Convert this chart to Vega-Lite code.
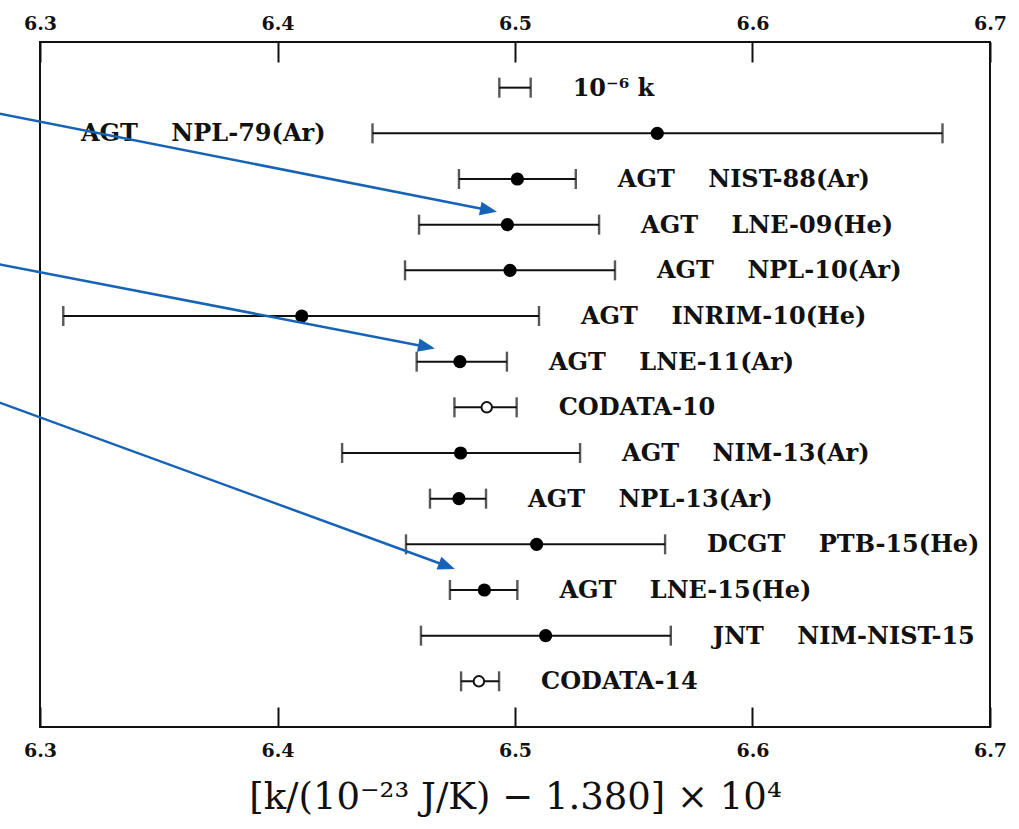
{
  "$schema": "https://vega.github.io/schema/vega-lite/v6.json",
  "width": 950,
  "height": 685,
  "autosize": "none",
  "padding": {"left": 40, "top": 42, "right": 29, "bottom": 102},
  "background": "white",
  "config": {
    "view": {"stroke": "#111", "strokeWidth": 2},
    "font": "DejaVu Serif"
  },
  "datasets": {
    "meas": [
      {"row": 1, "label": "10⁻⁶ k", "k": null, "lo": 6.4934, "hi": 6.5066, "kind": "scale"},
      {"row": 2, "label": "AGT\u00a0\u00a0\u00a0\u00a0NPL-79(Ar)", "k": 6.5599, "lo": 6.4400, "hi": 6.6800, "kind": "meas"},
      {"row": 3, "label": "AGT\u00a0\u00a0\u00a0\u00a0NIST-88(Ar)", "k": 6.5010, "lo": 6.4764, "hi": 6.5256, "kind": "meas"},
      {"row": 4, "label": "AGT\u00a0\u00a0\u00a0\u00a0LNE-09(He)", "k": 6.4968, "lo": 6.4596, "hi": 6.5354, "kind": "meas"},
      {"row": 5, "label": "AGT\u00a0\u00a0\u00a0\u00a0NPL-10(Ar)", "k": 6.4979, "lo": 6.4537, "hi": 6.5421, "kind": "meas"},
      {"row": 6, "label": "AGT\u00a0\u00a0\u00a0\u00a0INRIM-10(He)", "k": 6.4102, "lo": 6.3098, "hi": 6.5101, "kind": "meas"},
      {"row": 7, "label": "AGT\u00a0\u00a0\u00a0\u00a0LNE-11(Ar)", "k": 6.4768, "lo": 6.4586, "hi": 6.4966, "kind": "meas"},
      {"row": 8, "label": "CODATA-10", "k": 6.4881, "lo": 6.4745, "hi": 6.5007, "kind": "codata"},
      {"row": 9, "label": "AGT\u00a0\u00a0\u00a0\u00a0NIM-13(Ar)", "k": 6.4771, "lo": 6.4272, "hi": 6.5274, "kind": "meas"},
      {"row": 10, "label": "AGT\u00a0\u00a0\u00a0\u00a0NPL-13(Ar)", "k": 6.4764, "lo": 6.4642, "hi": 6.4878, "kind": "meas"},
      {"row": 11, "label": "DCGT\u00a0\u00a0\u00a0\u00a0PTB-15(He)", "k": 6.5091, "lo": 6.4541, "hi": 6.5632, "kind": "meas"},
      {"row": 12, "label": "AGT\u00a0\u00a0\u00a0\u00a0LNE-15(He)", "k": 6.4871, "lo": 6.4726, "hi": 6.5010, "kind": "meas"},
      {"row": 13, "label": "JNT\u00a0\u00a0\u00a0\u00a0NIM-NIST-15", "k": 6.5129, "lo": 6.4604, "hi": 6.5656, "kind": "meas"},
      {"row": 14, "label": "CODATA-14", "k": 6.4848, "lo": 6.4773, "hi": 6.4933, "kind": "codata"}
    ],
    "arrows": [
      {"arrow": 1, "x": 6.2790, "row": 1.53},
      {"arrow": 1, "x": 6.4891, "row": 3.683},
      {"arrow": 2, "x": 6.2790, "row": 4.83},
      {"arrow": 2, "x": 6.4630, "row": 6.677},
      {"arrow": 3, "x": 6.2790, "row": 7.82},
      {"arrow": 3, "x": 6.4716, "row": 11.479}
    ],
    "heads": [
      {"arrow": 1, "x": 6.4924, "row": 3.716},
      {"arrow": 2, "x": 6.4663, "row": 6.709},
      {"arrow": 3, "x": 6.4747, "row": 11.540}
    ]
  },
  "resolve": {"axis": {"x": "independent"}},
  "layer": [
    {
      "data": {"name": "meas"},
      "mark": {"type": "rule", "color": "#111", "strokeWidth": 2},
      "encoding": {
        "x": {
          "field": "lo", "type": "quantitative",
          "scale": {"domain": [6.3, 6.7], "nice": false, "zero": false},
          "axis": {
            "orient": "bottom", "values": [6.3, 6.4, 6.5, 6.6, 6.7], "format": ".1f",
            "tickSize": -20, "tickWidth": 2, "tickColor": "#111", "domain": false, "grid": false,
            "labelFont": "DejaVu Serif", "labelFontWeight": "bold", "labelFontSize": 19,
            "labelColor": "#111", "labelPadding": 34, "labelFlush": false,
            "title": "[k/(10⁻²³ J/K) − 1.380] × 10⁴",
            "titleFont": "DejaVu Serif", "titleFontSize": 37, "titleFontWeight": "normal",
            "titleColor": "#111", "titlePadding": 19
          }
        },
        "x2": {"field": "hi"},
        "y": {"field": "row", "type": "quantitative", "scale": {"domain": [0, 15], "reverse": true, "nice": false, "zero": false}, "axis": null}
      }
    },
    {
      "data": {"name": "meas"},
      "mark": {"type": "tick", "orient": "vertical", "color": "#111", "size": 20, "thickness": 2.4},
      "encoding": {
        "x": {
          "field": "lo", "type": "quantitative",
          "scale": {"domain": [6.3, 6.7], "nice": false, "zero": false},
          "axis": {
            "orient": "top", "values": [6.3, 6.4, 6.5, 6.6, 6.7], "format": ".1f",
            "tickSize": -20, "tickWidth": 2, "tickColor": "#111", "domain": false, "grid": false,
            "labelFont": "DejaVu Serif", "labelFontWeight": "bold", "labelFontSize": 19,
            "labelColor": "#111", "labelPadding": 29, "labelFlush": false, "title": null
          }
        },
        "y": {"field": "row", "type": "quantitative", "axis": null}
      }
    },
    {
      "data": {"name": "meas"},
      "mark": {"type": "tick", "orient": "vertical", "color": "#111", "size": 20, "thickness": 2.4},
      "encoding": {
        "x": {"field": "hi", "type": "quantitative", "axis": null},
        "y": {"field": "row", "type": "quantitative", "axis": null}
      }
    },
    {
      "data": {"name": "meas"},
      "transform": [{"filter": "datum.kind === 'meas'"}],
      "mark": {"type": "point", "shape": "circle", "filled": true, "color": "#000", "size": 175, "opacity": 1},
      "encoding": {
        "x": {"field": "k", "type": "quantitative", "axis": null},
        "y": {"field": "row", "type": "quantitative", "axis": null}
      }
    },
    {
      "data": {"name": "meas"},
      "transform": [{"filter": "datum.kind === 'codata'"}],
      "mark": {"type": "point", "shape": "circle", "filled": true, "fill": "white", "stroke": "#111", "strokeWidth": 2, "size": 110, "opacity": 1},
      "encoding": {
        "x": {"field": "k", "type": "quantitative", "axis": null},
        "y": {"field": "row", "type": "quantitative", "axis": null}
      }
    },
    {
      "data": {"name": "meas"},
      "transform": [{"filter": "datum.row !== 2"}],
      "mark": {"type": "text", "align": "left", "baseline": "middle", "dx": 42, "dy": 1, "font": "DejaVu Serif", "fontWeight": "bold", "fontSize": 24, "color": "#111"},
      "encoding": {
        "x": {"field": "hi", "type": "quantitative", "axis": null},
        "y": {"field": "row", "type": "quantitative", "axis": null},
        "text": {"field": "label"}
      }
    },
    {
      "data": {"name": "meas"},
      "transform": [{"filter": "datum.row === 2"}],
      "mark": {"type": "text", "align": "right", "baseline": "middle", "dx": -47, "dy": 1, "font": "DejaVu Serif", "fontWeight": "bold", "fontSize": 24, "color": "#111"},
      "encoding": {
        "x": {"field": "lo", "type": "quantitative", "axis": null},
        "y": {"field": "row", "type": "quantitative", "axis": null},
        "text": {"field": "label"}
      }
    },
    {
      "data": {"name": "arrows"},
      "mark": {"type": "line", "color": "#1763b6", "strokeWidth": 2.5},
      "encoding": {
        "x": {"field": "x", "type": "quantitative", "axis": null},
        "y": {"field": "row", "type": "quantitative", "axis": null},
        "detail": {"field": "arrow"}
      }
    },
    {
      "data": {"name": "heads"},
      "transform": [{"filter": "datum.arrow !== 3"}],
      "mark": {"type": "point", "shape": "M-2,-0.8L0,0L-2,0.8Z", "filled": true, "color": "#1763b6", "size": 290, "angle": 11, "opacity": 1, "strokeWidth": 0},
      "encoding": {
        "x": {"field": "x", "type": "quantitative", "axis": null},
        "y": {"field": "row", "type": "quantitative", "axis": null}
      }
    },
    {
      "data": {"name": "heads"},
      "transform": [{"filter": "datum.arrow === 3"}],
      "mark": {"type": "point", "shape": "M-2,-0.8L0,0L-2,0.8Z", "filled": true, "color": "#1763b6", "size": 290, "angle": 20.4, "opacity": 1, "strokeWidth": 0},
      "encoding": {
        "x": {"field": "x", "type": "quantitative", "axis": null},
        "y": {"field": "row", "type": "quantitative", "axis": null}
      }
    }
  ]
}
